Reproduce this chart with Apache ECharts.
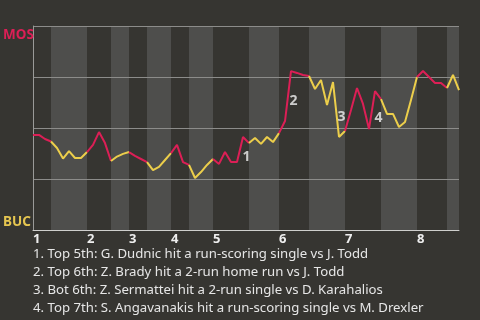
<!DOCTYPE html>
<html>
<head>
<meta charset="utf-8">
<script src="https://cdn.jsdelivr.net/npm/echarts@6/dist/echarts.min.js"></script>
<style>
html,body{margin:0;padding:0;background:#363531;}
#c{width:480px;height:320px;}
</style>
</head>
<body>
<div id="c"></div>
<script>
// MOS win probability (%) after each play, index = play number
var winProb = [46.6,46.6,44.6,43.4,40.2,35.0,38.7,35.3,35.3,38.2,
               41.7,48.0,42.6,33.8,36.0,37.3,38.2,36.3,34.8,33.3,
               29.4,30.9,34.3,37.7,41.7,33.3,31.9,25.5,28.4,31.9,
               34.8,32.4,38.2,33.3,33.3,45.6,42.6,45.1,42.2,45.6,
               43.1,47.5,53.4,77.9,77.0,76.0,75.5,69.1,73.5,61.3,
               72.5,45.6,48.5,58.8,69.6,61.8,49.5,68.1,64.2,56.9,
               56.9,50.5,52.9,63.7,75.0,77.9,75.0,72.1,72.1,69.6,
               76.0,68.6];
// play index where each half-inning starts (top 1st, bot 1st, ...), last = end
var halfBounds = [0,3,9,13,16,19,23,26,30,36,41,46,52,58,64,69,71];
var inningStarts = [0,9,16,23,30,41,52,64];
var inningLabels = ['1','2','3','4','5','6','7','8'];
var teamTop = 'MOS', teamBottom = 'BUC';
var annX = [35.6,43.4,51.4,57.6];
var annY = [35.8,63.2,55.4,54.9];
var annText = ['1','2','3','4'];
var notes = [
  '1. Top 5th: G. Dudnic hit a run-scoring single vs J. Todd',
  '2. Top 6th: Z. Brady hit a 2-run home run vs J. Todd',
  '3. Bot 6th: Z. Sermattei hit a 2-run single vs D. Karahalios',
  '4. Top 7th: S. Angavanakis hit a run-scoring single vs M. Drexler'
];

var RED = '#dc1f56', YEL = '#ecce4b';
var FONT = '"Noto Sans", "Open Sans", sans-serif';

var series = [];
var bands = [];
for (var k = 0; k < halfBounds.length - 1; k++) {
  var a = halfBounds[k], b = halfBounds[k+1];
  var d = [];
  for (var i = a; i <= b; i++) d.push([i, winProb[i]]);
  series.push({
    type: 'line', data: d, showSymbol: false, silent: true,
    lineStyle: {color: k % 2 === 0 ? RED : YEL, width: 2},
    z: 3
  });
  if (k % 2 === 1) bands.push([{xAxis: a}, {xAxis: b}]);
}
series.push({
  type: 'line', data: [], silent: true,
  markArea: {silent: true, z: -1, itemStyle: {color: '#4e4e4c'}, data: bands}
});
series.push({
  type: 'scatter', silent: true, symbolSize: 0, z: 5,
  data: annX.map(function (x, i) { return [x, annY[i], annText[i]]; }),
  label: {show: true, position: 'inside', formatter: function (p) { return p.data[2]; },
          color: '#f2f2f2', fontSize: 14, fontWeight: 'bold', fontFamily: FONT}
});

var chart = echarts.init(document.getElementById('c'), null, {renderer: 'canvas'});
chart.setOption({
  backgroundColor: '#363531',
  animation: false,
  grid: {left: 32, right: 21, top: 26, bottom: 90},
  xAxis: {
    type: 'value', min: 0, max: halfBounds[halfBounds.length-1],
    axisLine: {lineStyle: {color: '#cfcfcd', width: 1}},
    axisTick: {show: false},
    splitLine: {show: false},
    axisLabel: {
      customValues: inningStarts,
      formatter: function (v) { return inningLabels[inningStarts.indexOf(v)] || ''; },
      align: 'left', margin: 3, color: '#eeeeee', fontSize: 13, fontWeight: 'bold', fontFamily: FONT
    }
  },
  yAxis: {
    type: 'value', min: 0, max: 100, interval: 25,
    axisLine: {show: true, lineStyle: {color: '#9a9a98'}},
    axisTick: {show: false},
    splitLine: {lineStyle: {color: '#8c8c8a', width: 1}},
    axisLabel: {
      align: 'left', margin: 30,
      fontSize: 13.5, fontWeight: 'bold', fontFamily: FONT,
      formatter: function (v) {
        if (v === 100) return '{s|}\n{m|' + teamTop + '}';
        if (v === 0) return '{b|' + teamBottom + '}\n{t|}';
        return '';
      },
      rich: {
        s: {height: 18, lineHeight: 18},
        t: {height: 16, lineHeight: 16},
        m: {color: RED, fontSize: 13.5, fontWeight: 'bold', fontFamily: FONT, lineHeight: 14, height: 14},
        b: {color: '#e6c650', fontSize: 13.5, fontWeight: 'bold', fontFamily: FONT, lineHeight: 14, height: 14}
      }
    }
  },
  graphic: notes.map(function (t, i) {
    return {type: 'text', left: 33, top: 248 + i * 18,
      style: {text: t, fill: '#e6e6e6', font: '13.2px ' + FONT}};
  }),
  series: series
});
</script>
</body>
</html>
